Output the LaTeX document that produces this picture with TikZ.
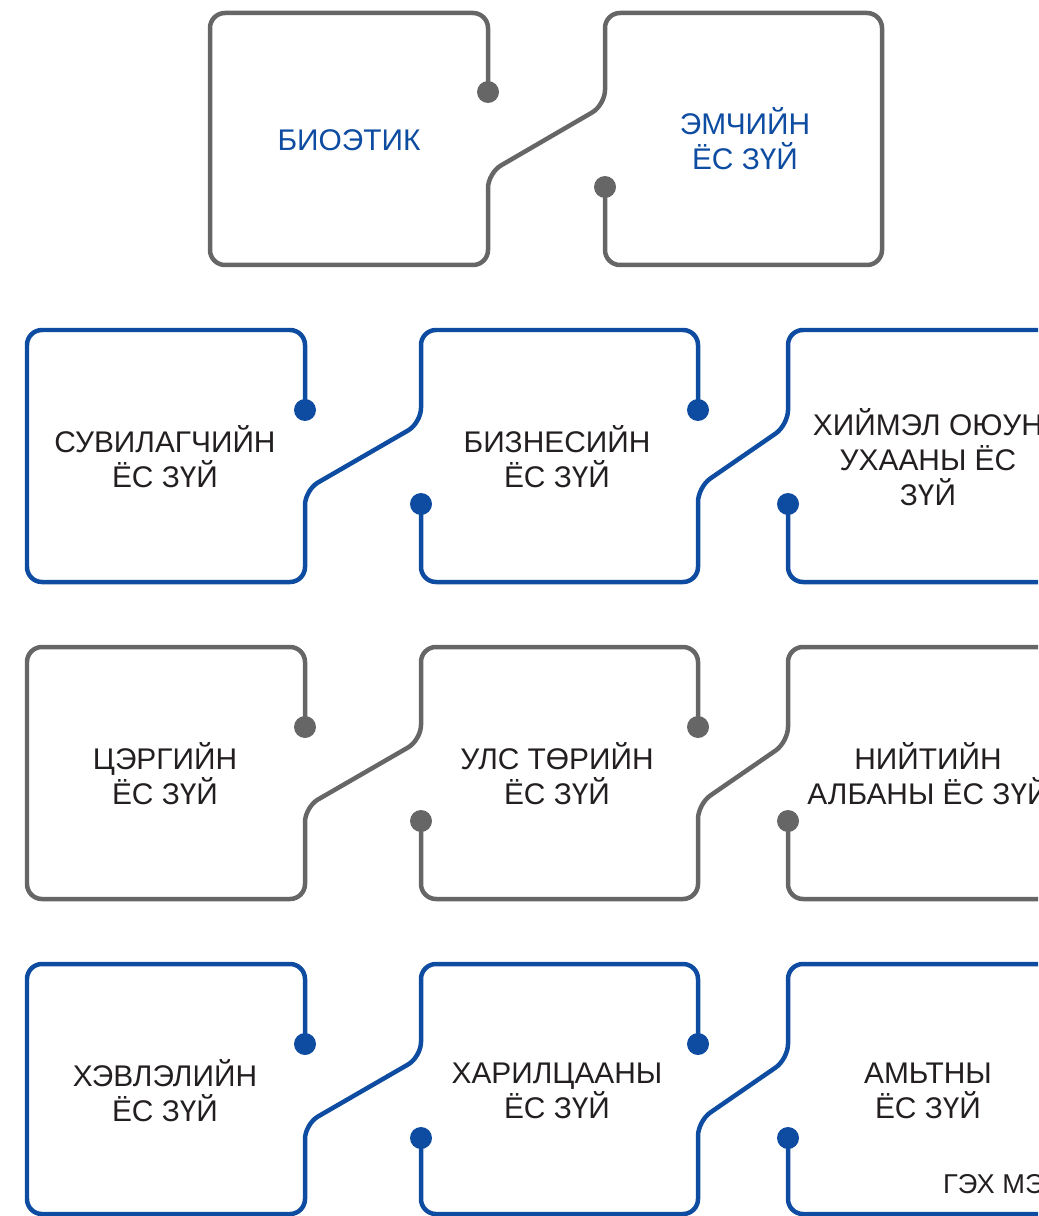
\documentclass[tikz,border=0pt]{standalone}
\usepackage{fontspec}
\setmainfont{Liberation Sans}
\usepackage{tikz}
\usetikzlibrary{positioning}
\definecolor{lineblue}{RGB}{13,76,160}
\definecolor{linegray}{RGB}{102,102,102}
\definecolor{ink}{RGB}{35,31,32}

\begin{document}
\begin{tikzpicture}[x=0.02cm,y=-0.02cm,
  wire/.style={line width=0.09cm,rounded corners=0.3cm},
  dot/.style={circle,inner sep=0pt,minimum size=0.44cm},
  every node/.style={align=center,text=ink,
    font=\fontsize{17}{20}\selectfont}]

  \clip (0,0) rectangle (1038,1216);

  % bioetik - emch
  \begin{scope}[shift={(0,13)}]
    \draw[wire,linegray] (488,79) -- (488,0) -- (210,0) -- (210,252) -- (488,252)
      -- (488,160) -- (605,92) -- (605,0) -- (882,0) -- (882,252) -- (605,252) -- (605,174);
    \node[dot,fill=linegray] (bioDot) at (488,79) {};
    \node[dot,fill=linegray] (emchDot) at (605,174) {};
    \node[text=lineblue] (bio) at (349,127) {БИОЭТИК};
    \node[text=lineblue] (emch) at (745,126) {ЭМЧИЙН\\ЁС ЗҮЙ};
  \end{scope}

  % row 2
  \begin{scope}[shift={(0,330)}]
    \draw[wire,lineblue] (305,80) -- (305,0) -- (27,0) -- (27,252) -- (305,252)
      -- (305,160) -- (421,93) -- (421,0) -- (698,0) -- (698,80);
    \draw[wire,lineblue] (421,174) -- (421,252) -- (698,252) -- (698,157) -- (788,95)
      -- (788,0) -- (1068,0) -- (1068,252) -- (788,252) -- (788,174);
    \node[dot,fill=lineblue] (suvDot) at (305,80) {};
    \node[dot,fill=lineblue] (bizDotA) at (421,174) {};
    \node[dot,fill=lineblue] (bizDotB) at (698,80) {};
    \node[dot,fill=lineblue] (aiDot) at (788,174) {};
    \node (suv) at (165,127) {СУВИЛАГЧИЙН\\ЁС ЗҮЙ};
    \node (biz) at (557,127) {БИЗНЕСИЙН\\ЁС ЗҮЙ};
    \node (ai) at (928,127) {ХИЙМЭЛ ОЮУН\\УХААНЫ ЁС\\ЗҮЙ};
  \end{scope}

  % row 3
  \begin{scope}[shift={(0,647)}]
    \draw[wire,linegray] (305,80) -- (305,0) -- (27,0) -- (27,252) -- (305,252)
      -- (305,160) -- (421,93) -- (421,0) -- (698,0) -- (698,80);
    \draw[wire,linegray] (421,174) -- (421,252) -- (698,252) -- (698,157) -- (788,95)
      -- (788,0) -- (1068,0) -- (1068,252) -- (788,252) -- (788,174);
    \node[dot,fill=linegray] (tserDot) at (305,80) {};
    \node[dot,fill=linegray] (ulsDotA) at (421,174) {};
    \node[dot,fill=linegray] (ulsDotB) at (698,80) {};
    \node[dot,fill=linegray] (niitDot) at (788,174) {};
    \node (tser) at (165,127) {ЦЭРГИЙН\\ЁС ЗҮЙ};
    \node (uls) at (557,127) {УЛС ТӨРИЙН\\ЁС ЗҮЙ};
    \node (niit) at (928,127) {НИЙТИЙН\\АЛБАНЫ ЁС ЗҮЙ};
  \end{scope}

  % row 4
  \begin{scope}[shift={(0,964)}]
    \draw[wire,lineblue] (305,80) -- (305,0) -- (27,0) -- (27,250) -- (305,250)
      -- (305,160) -- (421,93) -- (421,0) -- (698,0) -- (698,80);
    \draw[wire,lineblue] (421,174) -- (421,250) -- (698,250) -- (698,157) -- (788,95)
      -- (788,0) -- (1068,0) -- (1068,250) -- (788,250) -- (788,174);
    \node[dot,fill=lineblue] (khevDot) at (305,80) {};
    \node[dot,fill=lineblue] (kharDotA) at (421,174) {};
    \node[dot,fill=lineblue] (kharDotB) at (698,80) {};
    \node[dot,fill=lineblue] (amDot) at (788,174) {};
    \node (khev) at (165,127) {ХЭВЛЭЛИЙН\\ЁС ЗҮЙ};
    \node (khar) at (557,127) {ХАРИЛЦААНЫ\\ЁС ЗҮЙ};
    \node (am) at (928,127) {АМЬТНЫ\\ЁС ЗҮЙ};
    \node[anchor=base west,font=\fontsize{15.5}{18}\selectfont] (etc) at (937,229) {ГЭХ МЭТ};
  \end{scope}

\end{tikzpicture}
\end{document}
